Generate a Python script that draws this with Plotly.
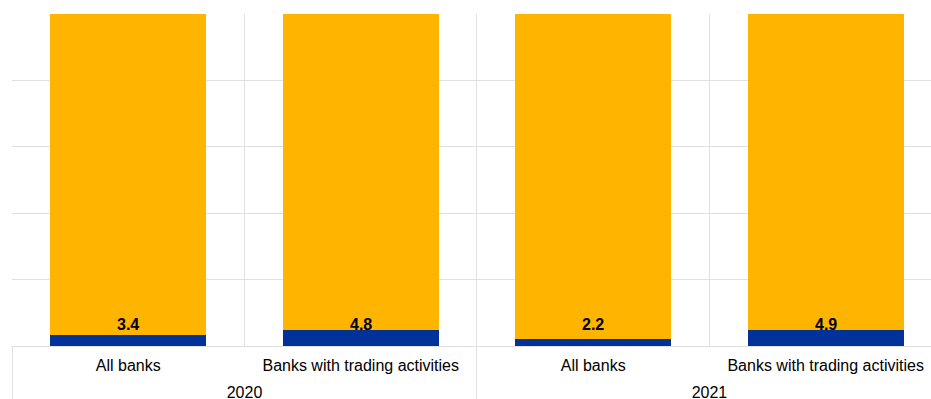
import plotly.graph_objects as go

years = ["2020", "2020", "2021", "2021"]
groups = ["All banks", "Banks with trading activities", "All banks", "Banks with trading activities"]
share_trading = [3.4, 4.8, 2.2, 4.9]
share_rest = [round(100 - v, 1) for v in share_trading]

BLUE = "#003299"
YELLOW = "#FFB400"
GRID = "#e0e0e0"
FONT = "Liberation Sans, Arial, sans-serif"


def padded(label):
    # wider padding glyphs on both sides give the group row a little more depth,
    # which opens up the gap above the year row
    pad = '<span style="font-size:26px">\u00a0</span>'
    return pad + label + pad


x = [years, [padded(g) for g in groups]]

fig = go.Figure()
fig.add_trace(go.Bar(x=x, y=share_trading, marker=dict(color=BLUE, line=dict(width=0)),
                     name="Trading", hoverinfo="y"))
fig.add_trace(go.Bar(x=x, y=share_rest, marker=dict(color=YELLOW, line=dict(width=0)),
                     name="Other", hoverinfo="y"))

# value labels sit at a fixed height just above the baseline
for i, v in enumerate(share_trading):
    fig.add_annotation(x=i, y=0, xref="x", yref="y", text=f"<b>{v:.1f}</b>",
                       showarrow=False, yanchor="bottom", yshift=11,
                       font=dict(family=FONT, size=16, color="#000000"))

fig.update_layout(
    width=931, height=399,
    margin=dict(l=12, r=0, t=14, b=53, autoexpand=False),
    barmode="stack", bargap=0.33,
    showlegend=False,
    plot_bgcolor="white", paper_bgcolor="white",
    font=dict(family=FONT, size=16, color="#000000"),
)
fig.update_xaxes(
    type="multicategory", tickson="boundaries", showgrid=True, gridcolor=GRID, gridwidth=1,
    showdividers=True, dividercolor=GRID, dividerwidth=1,
    showline=True, linecolor=GRID, linewidth=1,
    ticks="", ticklabelstandoff=5, automargin=False,
    range=[-0.5, 3.453], autorange=False,
    tickfont=dict(family=FONT, size=16, color="#000000"),
)
fig.update_yaxes(
    range=[0, 100], dtick=20, showgrid=True, gridcolor=GRID, gridwidth=1,
    zeroline=True, zerolinecolor=GRID, zerolinewidth=1,
    showticklabels=False, ticks="", automargin=False,
)

fig.write_html("out.html")
